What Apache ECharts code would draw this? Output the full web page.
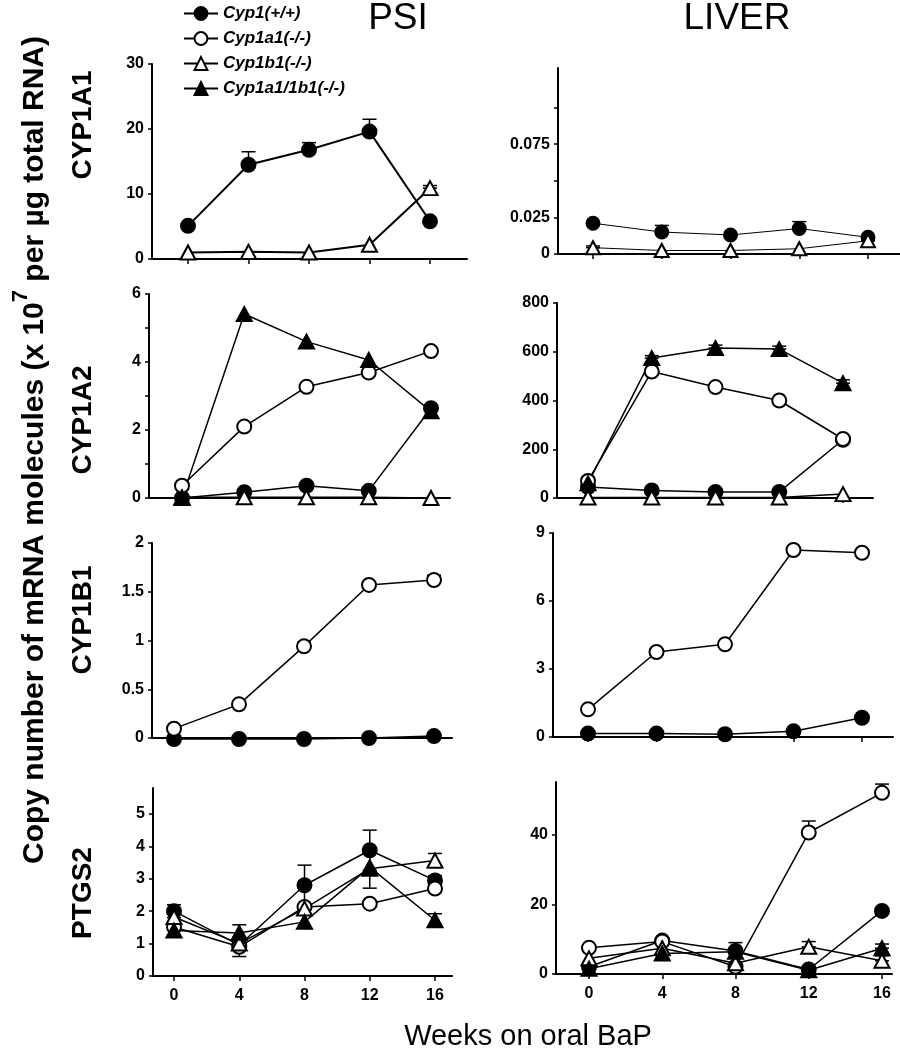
<!DOCTYPE html>
<html>
<head>
<meta charset="utf-8">
<script src="https://cdn.jsdelivr.net/npm/echarts@6/dist/echarts.min.js"></script>
<style>
  html, body { margin: 0; padding: 0; background: #fff; }
  #chart { width: 900px; height: 1050px; }
</style>
</head>
<body>
<div id="chart"></div>
<script>
// weeks on oral BaP
const weeks = [0, 4, 8, 12, 16];
const genotypes = ['Cyp1(+/+)', 'Cyp1a1(-/-)', 'Cyp1b1(-/-)', 'Cyp1a1/1b1(-/-)'];

// CYP1A1 - PSI
const a1PsiWt = [5.1, 14.5, 16.8, 19.6, 5.8];
const a1PsiWtErr = [0, 2.0, 1.1, 1.9, 0];
const a1PsiB1 = [1.0, 1.1, 1.0, 2.2, 10.9];
const a1PsiB1Err = [0, 0, 0, 0, 0.4];
// CYP1A1 - LIVER
const a1LivWt = [0.021, 0.015, 0.013, 0.0174, 0.0114];
const a1LivWtErr = [0, 0.0045, 0, 0.0047, 0];
const a1LivB1 = [0.0043, 0.0024, 0.0024, 0.0036, 0.009];
const a1LivB1Err = [0.0012, 0, 0, 0, 0.002];

// CYP1A2 - PSI
const a2PsiWt = [0.0, 0.17, 0.36, 0.21, 2.64];
const a2PsiA1 = [0.36, 2.1, 3.27, 3.69, 4.32];
const a2PsiB1 = [0.02, 0.02, 0.02, 0.02, 0.0];
const a2PsiDko = [0.0, 5.41, 4.6, 4.06, 2.55];
// CYP1A2 - LIVER
const a2LivWt = [45, 31, 25, 25, 239];
const a2LivA1 = [70, 519, 455, 400, 242];
const a2LivB1 = [2, 2, 2, 2, 16];
const a2LivDko = [60, 574, 615, 611, 471];
const a2LivDkoErr = [25, 10, 12, 12, 14];

// CYP1B1 - PSI
const b1PsiWt = [-0.01, -0.01, -0.01, 0.0, 0.02];
const b1PsiA1 = [0.096, 0.345, 0.94, 1.57, 1.62];
const b1PsiA1Err = [0, 0.03, 0.04, 0.03, 0.05];
// CYP1B1 - LIVER
const b1LivWt = [0.15, 0.15, 0.12, 0.25, 0.85];
const b1LivA1 = [1.22, 3.75, 4.09, 8.25, 8.13];

// PTGS2 - PSI
const p2PsiWt = [2.0, 0.95, 2.8, 3.88, 2.95];
const p2PsiWtErr = [0.2, 0, 0.62, 0.62, 0.15];
const p2PsiA1 = [1.51, 0.9, 2.13, 2.23, 2.7];
const p2PsiA1Err = [0, 0.3, 0, 0, 0.1];
const p2PsiB1 = [1.82, 1.0, 2.08, 3.31, 3.56];
const p2PsiB1Err = [0, 0, 0, 0.6, 0.22];
const p2PsiDko = [1.4, 1.33, 1.67, 3.36, 1.72];
const p2PsiDkoErr = [0.15, 0.25, 0, 0, 0.2];
// PTGS2 - LIVER
const p2LivWt = [2.1, 9.6, 6.6, 1.3, 18.1];
const p2LivWtErr = [0, 0.5, 2.4, 0, 0];
const p2LivA1 = [7.5, 9.3, 2.1, 40.6, 52.0];
const p2LivA1Err = [0, 0, 0, 3.3, 2.5];
const p2LivB1 = [4.5, 7.4, 3.1, 7.8, 3.8];
const p2LivB1Err = [0, 0, 0, 1.5, 1.4];
const p2LivDko = [1.5, 5.9, 6.4, 1.1, 7.4];
const p2LivDkoErr = [0, 0, 0, 0, 1.2];

const FONT = '"Liberation Sans", Arial, sans-serif';

// marker look per genotype
const looks = [
  { symbol: 'circle', fill: '#000' },
  { symbol: 'circle', fill: '#fff' },
  { symbol: 'triangle', fill: '#fff' },
  { symbol: 'triangle', fill: '#000' }
];

// panel layout (pixels): y axis x, top, zero line, right end, where week 0 and 16 sit
const panels = [
  { l: 152, t: 64, b: 259, r: 467, p0: 188, p16: 430, max: 30, ticks: [0, 10, 20, 30], labels: [0, 10, 20, 30], lw: 2,
    s: [[0, a1PsiWt, a1PsiWtErr], [2, a1PsiB1, a1PsiB1Err]] },
  { l: 558, t: 68, b: 254, r: 900, p0: 593, p16: 868, max: 0.127, ticks: [0, 0.025, 0.05, 0.075, 0.1], labels: [0, 0.025, 0.075], lw: 1, ms: 13,
    s: [[0, a1LivWt, a1LivWtErr], [2, a1LivB1, a1LivB1Err]] },
  { l: 149, t: 294, b: 498, r: 450, p0: 182, p16: 431, max: 6, ticks: [0, 1, 2, 3, 4, 5, 6], labels: [0, 2, 4, 6],
    s: [[0, a2PsiWt], [1, a2PsiA1], [2, a2PsiB1], [3, a2PsiDko]] },
  { l: 557, t: 303, b: 498, r: 873, p0: 588, p16: 843, max: 800, ticks: [0, 200, 400, 600, 800], labels: [0, 200, 400, 600, 800],
    s: [[0, a2LivWt], [1, a2LivA1], [2, a2LivB1], [3, a2LivDko, a2LivDkoErr]] },
  { l: 152, t: 543, b: 738, r: 452, p0: 174, p16: 434, max: 2, ticks: [0, 0.5, 1, 1.5, 2], labels: [0, 0.5, 1, 1.5, 2],
    s: [[0, b1PsiWt], [1, b1PsiA1, b1PsiA1Err]] },
  { l: 553, t: 533, b: 737, r: 893, p0: 588, p16: 862, max: 9, ticks: [0, 3, 6, 9], labels: [0, 3, 6, 9],
    s: [[0, b1LivWt], [1, b1LivA1]] },
  { l: 153, t: 788, b: 976, r: 452, p0: 174, p16: 435, max: 5.8, ticks: [0, 1, 2, 3, 4, 5], labels: [0, 1, 2, 3, 4, 5], xl: true, both: true,
    s: [[0, p2PsiWt, p2PsiWtErr], [1, p2PsiA1, p2PsiA1Err], [2, p2PsiB1, p2PsiB1Err], [3, p2PsiDko, p2PsiDkoErr]] },
  { l: 556, t: 782, b: 974, r: 892, p0: 589, p16: 882, max: 55.1, ticks: [0, 20, 40], labels: [0, 20, 40], xl: true,
    s: [[0, p2LivWt, p2LivWtErr], [1, p2LivA1, p2LivA1Err], [2, p2LivB1, p2LivB1Err], [3, p2LivDko, p2LivDkoErr]] }
];

function errBar(params, api) {
  const x = api.value(0), hi = api.value(2), lo = api.value(3);
  const top = api.coord([x, hi]);
  const bot = api.coord([x, lo]);
  const w = 7;
  const st = { stroke: '#000', lineWidth: 1.5 };
  return {
    type: 'group',
    children: [
      { type: 'line', shape: { x1: top[0], y1: top[1], x2: bot[0], y2: bot[1] }, style: st },
      { type: 'line', shape: { x1: top[0] - w, y1: top[1], x2: top[0] + w, y2: top[1] }, style: st },
      { type: 'line', shape: { x1: bot[0] - w, y1: bot[1], x2: bot[0] + w, y2: bot[1] }, style: st }
    ]
  };
}

const grid = [], xAxis = [], yAxis = [], series = [];
panels.forEach((p, i) => {
  grid.push({ left: p.l, top: p.t, width: p.r - p.l, height: p.b - p.t });
  const k = (p.p16 - p.p0) / 16;
  xAxis.push({
    gridIndex: i, type: 'value',
    min: -(p.p0 - p.l) / k, max: 16 + (p.r - p.p16) / k,
    splitLine: { show: false },
    axisLine: { onZero: false, lineStyle: { color: '#000', width: 2 } },
    axisTick: { customValues: weeks, length: 5, lineStyle: { color: '#000', width: 1.5 } },
    axisLabel: { show: !!p.xl, customValues: weeks, margin: 12, color: '#000', fontSize: 16, fontWeight: 'bold', fontFamily: FONT }
  });
  yAxis.push({
    gridIndex: i, type: 'value', min: 0, max: p.max,
    splitLine: { show: false },
    axisLine: { show: true, onZero: false, lineStyle: { color: '#000', width: 2 } },
    axisTick: { show: true, customValues: p.ticks, length: 4, lineStyle: { color: '#000', width: 1.5 } },
    axisLabel: { customValues: p.labels, margin: 8, color: '#000', fontSize: 16, fontWeight: 'bold', fontFamily: FONT }
  });
  p.s.forEach(([g, vals, err]) => {
    const lk = looks[g];
    const size = p.ms || 14;
    series.push({
      name: genotypes[g], type: 'line', xAxisIndex: i, yAxisIndex: i, z: 3,
      data: weeks.map((w, j) => [w, vals[j]]),
      symbol: lk.symbol,
      symbolSize: lk.symbol === 'triangle' ? [size + 1, size] : size,
      clip: false, silent: true,
      lineStyle: { color: '#000', width: p.lw || 1.5 },
      itemStyle: { color: lk.fill, borderColor: '#000', borderWidth: 2 },
      emphasis: { disabled: true }
    });
    if (err) {
      series.push({
        name: genotypes[g] + ' SEM', type: 'custom', xAxisIndex: i, yAxisIndex: i, z: 2, clip: false, silent: true,
        renderItem: errBar,
        data: weeks.map((w, j) => [w, vals[j], vals[j] + err[j], p.both ? vals[j] - err[j] : vals[j]])
          .filter((d, j) => err[j] > 0)
      });
    }
  });
});

const txt = (x, y, text, size, extra) => ({
  type: 'text', x: x, y: y, silent: true,
  style: Object.assign({ text: text, font: size + 'px ' + FONT, fill: '#000', textAlign: 'center', textVerticalAlign: 'middle' }, extra || {})
});
const rot = Math.PI / 2;

const chart = echarts.init(document.getElementById('chart'), null, { renderer: 'canvas' });
chart.setOption({
  animation: false,
  backgroundColor: '#fff',
  legend: {
    data: genotypes, orient: 'vertical', left: 178, top: 0,
    itemWidth: 34, itemHeight: 16, itemGap: 8,
    textStyle: { fontSize: 17, fontWeight: 'bold', fontStyle: 'italic', color: '#000', fontFamily: FONT },
    selectedMode: false
  },
  grid: grid, xAxis: xAxis, yAxis: yAxis, series: series,
  graphic: [
    txt(398, 19, 'PSI', 37),
    txt(737, 19, 'LIVER', 37),
    txt(528, 1037, 'Weeks on oral BaP', 29),
    Object.assign(txt(83, 125, 'CYP1A1', 'bold 28'), { rotation: rot }),
    Object.assign(txt(83, 420, 'CYP1A2', 'bold 28'), { rotation: rot }),
    Object.assign(txt(83, 620, 'CYP1B1', 'bold 28'), { rotation: rot }),
    Object.assign(txt(83, 893, 'PTGS2', 'bold 28'), { rotation: rot }),
    {
      type: 'text', x: 30, y: 450, rotation: rot, silent: true,
      style: {
        text: '{t|Copy number of mRNA molecules (x 10}{s|7}{t| per µg total RNA)}',
        textAlign: 'center', textVerticalAlign: 'middle',
        rich: {
          t: { fontSize: 30, fontWeight: 'bold', fontFamily: FONT, fill: '#000', lineHeight: 40, verticalAlign: 'bottom' },
          s: { fontSize: 22, fontWeight: 'bold', fontFamily: FONT, fill: '#000', lineHeight: 40, verticalAlign: 'top' }
        }
      }
    }
  ]
});
</script>
</body>
</html>
